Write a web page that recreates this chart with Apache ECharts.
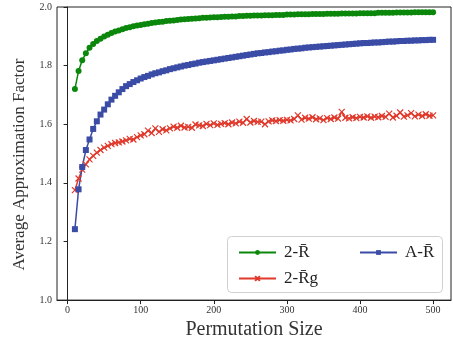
<!DOCTYPE html>
<html><head><meta charset="utf-8">
<script src="https://cdn.jsdelivr.net/npm/echarts@6/dist/echarts.min.js"></script>
<style>html,body{margin:0;padding:0;background:#fff}#c{width:453px;height:345px}</style>
</head><body><div id="c"></div>
<script>
const sizes = [10,15,20,25,30,35,40,45,50,55,60,65,70,75,80,85,90,95,100,105,110,115,120,125,130,135,140,145,150,155,160,165,170,175,180,185,190,195,200,205,210,215,220,225,230,235,240,245,250,255,260,265,270,275,280,285,290,295,300,305,310,315,320,325,330,335,340,345,350,355,360,365,370,375,380,385,390,395,400,405,410,415,420,425,430,435,440,445,450,455,460,465,470,475,480,485,490,495,500];
const twoR = [1.720,1.782,1.818,1.842,1.861,1.874,1.884,1.892,1.899,1.905,1.911,1.916,1.920,1.924,1.928,1.931,1.934,1.937,1.939,1.941,1.943,1.945,1.947,1.949,1.950,1.952,1.953,1.954,1.956,1.957,1.958,1.959,1.960,1.961,1.962,1.963,1.963,1.964,1.965,1.965,1.966,1.967,1.967,1.968,1.968,1.969,1.969,1.970,1.970,1.971,1.971,1.971,1.972,1.972,1.972,1.973,1.973,1.973,1.974,1.974,1.974,1.975,1.975,1.975,1.975,1.976,1.976,1.976,1.976,1.977,1.977,1.977,1.977,1.978,1.978,1.978,1.978,1.978,1.979,1.979,1.979,1.979,1.979,1.980,1.980,1.980,1.980,1.980,1.981,1.981,1.981,1.981,1.981,1.982,1.982,1.982,1.982,1.982,1.982];
const twoRg = [1.375,1.415,1.445,1.463,1.480,1.492,1.503,1.512,1.520,1.526,1.532,1.536,1.538,1.541,1.545,1.550,1.548,1.556,1.562,1.566,1.578,1.570,1.586,1.574,1.583,1.579,1.586,1.592,1.588,1.595,1.589,1.591,1.588,1.599,1.596,1.594,1.601,1.597,1.603,1.598,1.601,1.604,1.600,1.606,1.603,1.609,1.605,1.618,1.606,1.611,1.608,1.609,1.600,1.610,1.613,1.611,1.614,1.612,1.615,1.613,1.618,1.630,1.616,1.622,1.619,1.624,1.617,1.620,1.614,1.621,1.618,1.623,1.619,1.642,1.622,1.620,1.624,1.621,1.625,1.623,1.627,1.622,1.626,1.624,1.628,1.625,1.636,1.623,1.629,1.640,1.626,1.630,1.638,1.627,1.633,1.628,1.634,1.629,1.630];
const aR = [1.242,1.378,1.454,1.512,1.548,1.584,1.610,1.633,1.650,1.668,1.684,1.697,1.709,1.720,1.730,1.737,1.744,1.750,1.756,1.761,1.765,1.770,1.774,1.777,1.781,1.784,1.788,1.791,1.794,1.797,1.800,1.802,1.805,1.807,1.810,1.812,1.814,1.816,1.818,1.820,1.822,1.824,1.826,1.828,1.830,1.832,1.834,1.836,1.838,1.840,1.842,1.843,1.845,1.846,1.848,1.849,1.851,1.852,1.854,1.855,1.857,1.858,1.859,1.861,1.862,1.863,1.864,1.865,1.866,1.867,1.868,1.869,1.870,1.871,1.872,1.873,1.874,1.875,1.876,1.877,1.877,1.878,1.879,1.879,1.880,1.881,1.882,1.882,1.883,1.884,1.884,1.885,1.885,1.886,1.886,1.887,1.887,1.888,1.888];
const xTicks = [0,100,200,300,400,500];
const names = ['2-R\u0304', '2-R\u0304g', 'A-R\u0304'];

const FONT = '"Liberation Serif", "DejaVu Serif", serif';
const cGreen = '#0b870b', cRed = '#e0392b', cBlue = '#3a4ca6';
const xMark = 'path://M0,0L10,10M10,0L0,10';
const pair = (ys) => sizes.map((x, i) => [x, ys[i]]);

const chart = echarts.init(document.getElementById('c'), null, {renderer: 'canvas'});
const legendBase = {
  itemWidth: 37, itemHeight: 6, z: 10,
  textStyle: {fontFamily: FONT, fontSize: 17, color: '#222', padding: [0, 0, 0, 3]}
};
chart.setOption({
  animation: false,
  grid: {left: 57, right: 2, top: 7, bottom: 43, show: true, borderColor: '#222', borderWidth: 1},
  xAxis: {
    type: 'value', min: -14.5, max: 524.5,
    name: 'Permutation Size', nameLocation: 'middle', nameGap: 15,
    nameTextStyle: {fontFamily: FONT, fontSize: 20, color: '#333'},
    axisLine: {onZero: false, lineStyle: {color: '#222'}},
    axisTick: {customValues: xTicks, length: 4, lineStyle: {color: '#222'}},
    axisLabel: {customValues: xTicks, fontFamily: FONT, fontSize: 10, color: '#333', margin: 5},
    splitLine: {show: false}
  },
  yAxis: {
    type: 'value', min: 1.0, max: 2.0, interval: 0.2,
    name: 'Average Approximation Factor', nameLocation: 'middle', nameGap: 29,
    nameTextStyle: {fontFamily: FONT, fontSize: 17, color: '#333', padding: [0, 22, 0, 0]},
    axisLine: {show: true, lineStyle: {color: '#222'}},
    axisTick: {show: true, length: 4, lineStyle: {color: '#222'}},
    axisLabel: {fontFamily: FONT, fontSize: 10, color: '#333', margin: 5, formatter: v => v.toFixed(1)},
    splitLine: {show: false}
  },
  graphic: [{
    type: 'rect', left: 227, top: 236, z: 1,
    shape: {width: 215, height: 56, r: 4},
    style: {fill: 'rgba(255,255,255,0.85)', stroke: '#d0d0d0', lineWidth: 1}
  }],
  legend: [
    Object.assign({}, legendBase, {left: 233, top: 239, data: [names[0]]}),
    Object.assign({}, legendBase, {left: 354, top: 239, data: [names[2]]}),
    Object.assign({}, legendBase, {left: 233, top: 265, data: [names[1]]})
  ],
  series: [
    {name: names[0], type: 'line', data: pair(twoR), symbol: 'circle', symbolSize: 6,
     lineStyle: {color: cGreen, width: 1.5}, itemStyle: {color: cGreen}, z: 3},
    {name: names[1], type: 'line', data: pair(twoRg), symbol: xMark, symbolSize: 6,
     lineStyle: {color: cRed, width: 1.5}, itemStyle: {color: cRed, borderColor: cRed, borderWidth: 1.2}, z: 3},
    {name: names[2], type: 'line', data: pair(aR), symbol: 'rect', symbolSize: 6,
     lineStyle: {color: cBlue, width: 1.5}, itemStyle: {color: cBlue}, z: 3}
  ]
});
</script></body></html>
